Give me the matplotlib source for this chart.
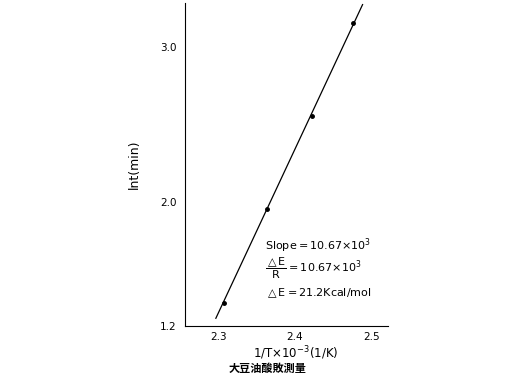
import matplotlib.pyplot as plt

plt.rcParams['font.family'] = ['DejaVu Sans', 'Noto Sans CJK TC']

# measured points
inv_t = [2.308, 2.364, 2.422, 2.475]
ln_t = [1.347, 1.956, 2.553, 3.149]
# fitted line end points
fit_x = [2.297, 2.488]
fit_y = [1.25, 3.27]

x_ticks = [2.3, 2.4, 2.5]
y_ticks = [1.2, 2.0, 3.0]

fig = plt.figure(figsize=(5.2, 3.8), dpi=100)
ax = fig.add_axes([0.356, 0.142, 0.390, 0.850])

ax.plot(fit_x, fit_y, color='black', linewidth=0.9)
ax.plot(inv_t, ln_t, 'o', color='black', markersize=2.5)

ax.set_xlim(2.257, 2.521)
ax.set_ylim(1.2, 3.28)
ax.set_xticks(x_ticks)
ax.set_xticklabels(['2.3', '2.4', '2.5'])
ax.set_yticks(y_ticks)
ax.set_yticklabels(['1.2', '2.0', '3.0'])
ax.tick_params(axis='x', length=0, labelsize=7.5, pad=4)
ax.tick_params(axis='y', length=0, labelsize=7.5, pad=6)
ax.spines['top'].set_visible(False)
ax.spines['right'].set_visible(False)

ax.set_ylabel('lnt(min)', fontsize=9)
ax.yaxis.set_label_coords(-0.22, 0.5)
ax.set_xlabel(r'1/T$\times$10$^{-3}$(1/K)', fontsize=8.5)
ax.xaxis.set_label_coords(0.547, -0.058)

ax.text(2.361, 1.72, r'Slope$=$10.67$\times$10$^3$', fontsize=8, va='center')
ax.text(2.361, 1.57, r'$\dfrac{\triangle\mathrm{E}}{\mathrm{R}}$$=$10.67$\times$10$^3$',
        fontsize=8, va='center')
ax.text(2.361, 1.41, r'$\triangle$E$=$21.2Kcal/mol', fontsize=8, va='center')

fig.text(0.514, 0.03, '大豆油酸敗測量', fontsize=8, fontweight='bold',
         family=['Noto Sans CJK TC', 'DejaVu Sans'], ha='center', va='center')

fig.savefig('out.png', dpi=100)
